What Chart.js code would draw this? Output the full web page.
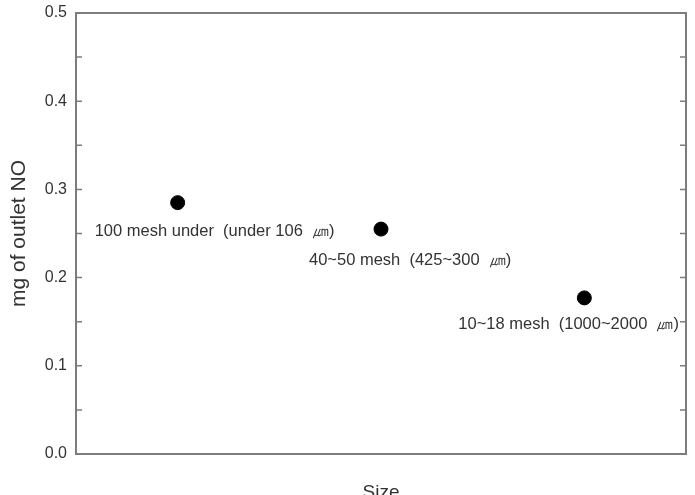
<!DOCTYPE html>
<html>
<head>
<meta charset="utf-8">
<script src="https://cdn.jsdelivr.net/npm/chart.js@4/dist/chart.umd.min.js"></script>
<style>
  html, body { margin: 0; padding: 0; background: #fff; }
  #wrap { width: 695px; height: 495px; }
</style>
</head>
<body>
<div id="wrap"><canvas id="nox"></canvas></div>
<script>
// data
const sizePositions = [1, 2, 3];
const outletNO = [0.285, 0.255, 0.177];
const sizeLabels = [
  '100 mesh under  (under 106  \u339B)',
  '40~50 mesh  (425~300  \u339B)',
  '10~18 mesh  (1000~2000  \u339B)'
];
const yTicks = [0.0, 0.1, 0.2, 0.3, 0.4, 0.5];
const yMinorTicks = [0.05, 0.15, 0.25, 0.35, 0.45];

// pixel offsets of each text label from its point (left edge, middle)
const labelOffsets = [[-83, 29], [-72, 31], [-126, 27]];

const font = '"Liberation Sans", Arial, sans-serif';
const frameColor = '#7d7d7d';
const textColor = '#333';

// frame + inward ticks + point labels
const framePlugin = {
  id: 'frame',
  afterDraw(chart) {
    const { ctx, chartArea: a } = chart;
    const y = chart.scales.y;
    ctx.save();
    ctx.strokeStyle = frameColor;
    ctx.lineWidth = 2;
    ctx.strokeRect(a.left, a.top, a.right - a.left, a.bottom - a.top);
    ctx.lineWidth = 1.5;
    ctx.beginPath();
    yTicks.concat(yMinorTicks).forEach(v => {
      const py = y.getPixelForValue(v);
      ctx.moveTo(a.left, py); ctx.lineTo(a.left + 6, py);
      ctx.moveTo(a.right, py); ctx.lineTo(a.right - 6, py);
    });
    ctx.stroke();

    const x = chart.scales.x;
    ctx.fillStyle = textColor;
    ctx.font = '16.5px ' + font;
    ctx.textAlign = 'left';
    ctx.textBaseline = 'middle';
    sizeLabels.forEach((t, i) => {
      const px = x.getPixelForValue(sizePositions[i]);
      const py = y.getPixelForValue(outletNO[i]);
      ctx.fillText(t, px + labelOffsets[i][0], py + labelOffsets[i][1]);
    });
    ctx.restore();
  }
};

new Chart(document.getElementById('nox'), {
  type: 'scatter',
  data: {
    datasets: [{
      data: sizePositions.map((p, i) => ({ x: p, y: outletNO[i] })),
      backgroundColor: '#000',
      borderColor: '#000',
      pointRadius: 7,
      pointHoverRadius: 7
    }]
  },
  options: {
    responsive: true,
    maintainAspectRatio: false,
    animation: false,
    layout: { padding: { top: 13, right: 9, left: 0, bottom: 0 } },
    plugins: { legend: { display: false }, tooltip: { enabled: false } },
    scales: {
      x: {
        type: 'linear',
        min: 0.5,
        max: 3.5,
        grid: { display: false },
        border: { display: false },
        ticks: { display: false },
        title: {
          display: true,
          text: 'Size',
          color: textColor,
          font: { family: font, size: 19 },
          padding: { top: 0, bottom: -9 }
        },
        afterFit(scale) { scale.height = 41; }
      },
      y: {
        min: 0,
        max: 0.5,
        grid: { display: false, drawTicks: false },
        border: { display: false },
        afterBuildTicks(scale) { scale.ticks = yTicks.map(v => ({ value: v })); },
        ticks: {
          color: textColor,
          padding: 9,
          font: { family: font, size: 16 },
          callback: v => v.toFixed(1)
        },
        title: {
          display: true,
          text: 'mg of outlet NO',
          color: textColor,
          font: { family: font, size: 21 },
          padding: { top: 7, bottom: 0 }
        },
        afterFit(scale) {
          scale.width = 76;
          scale.paddingTop = 0;
          scale.paddingBottom = 0;
        }
      }
    }
  },
  plugins: [framePlugin]
});
</script>
</body>
</html>
